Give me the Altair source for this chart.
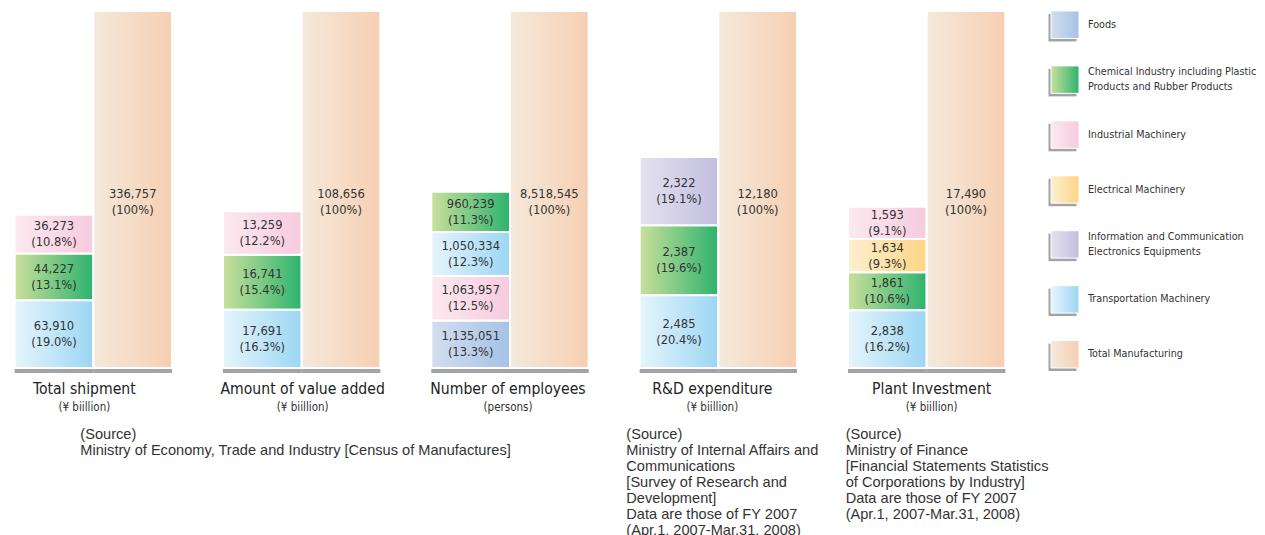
import altair as alt
import pandas as pd

COND = "DejaVu Sans Condensed, sans-serif"
REG = "Liberation Sans, Arial, sans-serif"

groups = ["Total shipment", "Amount of value added", "Number of employees",
          "R&D expenditure", "Plant Investment"]
units = ["(¥ biillion)", "(¥ biillion)", "(persons)", "(¥ biillion)", "(¥ biillion)"]
totals = ["336,757", "108,656", "8,518,545", "12,180", "17,490"]

cat_keys = ["foods", "chem", "indmach", "elec", "info", "trans", "total"]
cat_labels = ["Foods",
              "Chemical Industry including Plastic\nProducts and Rubber Products",
              "Industrial Machinery",
              "Electrical Machinery",
              "Information and Communication\nElectronics Equipments",
              "Transportation Machinery",
              "Total Manufacturing"]

# stacked segments, bottom to top within each group
seg_group = (["Total shipment"] * 3 + ["Amount of value added"] * 3 +
             ["Number of employees"] * 4 + ["R&D expenditure"] * 3 +
             ["Plant Investment"] * 4)
seg_cat = ["trans", "chem", "indmach",
           "trans", "chem", "indmach",
           "foods", "indmach", "trans", "chem",
           "trans", "chem", "info",
           "trans", "chem", "elec", "indmach"]
seg_value = ["63,910", "44,227", "36,273",
             "17,691", "16,741", "13,259",
             "1,135,051", "1,063,957", "1,050,334", "960,239",
             "2,485", "2,387", "2,322",
             "2,838", "1,861", "1,634", "1,593"]
seg_pct = [19.0, 13.1, 10.8,
           16.3, 15.4, 12.2,
           13.3, 12.5, 12.3, 11.3,
           20.4, 19.6, 19.1,
           16.2, 10.6, 9.3, 9.1]

source_groups = ["Total shipment", "R&D expenditure", "Plant Investment"]
source_texts = [
    "(Source)\nMinistry of Economy, Trade and Industry [Census of Manufactures]",
    "(Source)\nMinistry of Internal Affairs and\nCommunications\n[Survey of Research and\nDevelopment]\nData are those of FY 2007\n(Apr.1, 2007-Mar.31, 2008)",
    "(Source)\nMinistry of Finance\n[Financial Statements Statistics\nof Corporations by Industry]\nData are those of FY 2007\n(Apr.1, 2007-Mar.31, 2008)",
]

colors = {
    "foods": ("#d3deef", "#a5c2e5"),
    "chem": ("#c9e09c", "#2db36e"),
    "indmach": ("#fce9f0", "#f6cbde"),
    "elec": ("#fdefcf", "#fdd585"),
    "info": ("#e4e2f0", "#c2bedf"),
    "trans": ("#e6f5fc", "#9bd6f3"),
    "total": ("#f5e9dc", "#f6cfb2"),
}
SHADOW = "#a2a3a7"
TOTAL_LABEL_Y = 46.5
TITLE_DX = [-9, 1, -2, -6, 5]   # small horizontal nudges of the group captions
SRC_DX = [-13, -92, -81]


def grad(c):
    return {"gradient": "linear", "x1": 0, "y1": 0, "x2": 1, "y2": 0,
            "stops": [{"offset": 0, "color": c[0]}, {"offset": 1, "color": c[1]}]}


rows = []
cum = {g: 0.0 for g in groups}
for g, c, v, p in zip(seg_group, seg_cat, seg_value, seg_pct):
    y0 = cum[g]
    y1 = y0 + p
    cum[g] = y1
    rows.append({"group": g, "slot": "ind", "cat": c, "y0": y0, "y1": y1,
                 "ymid": (y0 + y1) / 2, "label": f"{v}\n({p:.1f}%)"})
for g, t in zip(groups, totals):
    rows.append({"group": g, "slot": "total", "cat": "total", "y0": 0.0, "y1": 100.0,
                 "ymid": TOTAL_LABEL_Y, "label": f"{t}\n(100%)"})
df = pd.DataFrame(rows)

XSCALE = alt.Scale(domain=groups, paddingInner=0.2447, paddingOuter=0.032)


def xenc():
    return alt.X("group:N", sort=groups, axis=None, scale=XSCALE)


xo = alt.XOffset("slot:N", sort=["ind", "total"],
                 scale=alt.Scale(domain=["ind", "total"], paddingInner=0, paddingOuter=0))
ysc = alt.Y("y1:Q", scale=alt.Scale(domain=[0, 100], nice=False, zero=True), axis=None)

base = alt.Chart(df).encode(x=xenc(), xOffset=xo)

layers = [base.mark_bar(color=SHADOW, xOffset=-4, yOffset=3, y2Offset=5)
          .encode(y=ysc, y2="y0:Q")]
for k in cat_keys:
    layers.append(
        base.transform_filter(alt.datum.cat == k)
        .mark_bar(fill=grad(colors[k]), stroke="white", strokeWidth=2)
        .encode(y=ysc, y2="y0:Q"))

layers.append(
    base.mark_text(lineBreak="\n", font=COND, fontSize=12.8, lineHeight=16,
                   color="#333333", baseline="middle", dy=-8)
    .encode(y=alt.Y("ymid:Q", axis=None), text="label:N"))

for g, u, dx in zip(groups, units, TITLE_DX):
    tdf = pd.DataFrame({"group": [g], "unit": [u]})
    tb = alt.Chart(tdf).encode(x=xenc(),
                               y=alt.YDatum(0, type="quantitative", axis=None))
    layers.append(tb.mark_text(font=COND, fontSize=15.6, color="#222222",
                               baseline="middle", dx=dx, dy=21).encode(text="group:N"))
    layers.append(tb.mark_text(font=COND, fontSize=11.5, color="#333333",
                               baseline="middle", dx=dx, dy=40).encode(text="unit:N"))

for g, t, dx in zip(source_groups, source_texts, SRC_DX):
    sdf = pd.DataFrame({"group": [g], "text": [t]})
    layers.append(
        alt.Chart(sdf).mark_text(font=REG, fontSize=14.6, lineHeight=16, color="#333333",
                                 align="left", baseline="top", dx=dx, dy=59,
                                 lineBreak="\n")
        .encode(x=xenc(),
                y=alt.YDatum(0, type="quantitative", axis=None),
                text="text:N"))

main = alt.layer(*layers).properties(width=1004, height=357)

ldf = pd.DataFrame({"key": cat_keys, "label": cat_labels})
ly = alt.Y("key:N", sort=cat_keys, axis=None,
           scale=alt.Scale(paddingInner=0.5, paddingOuter=0))
lb = alt.Chart(ldf).encode(y=ly)
leg_layers = [lb.mark_rect(color=SHADOW, xOffset=-2.5, x2Offset=-2.5, yOffset=3, y2Offset=3)
              .encode(x=alt.value(0), x2=alt.value(28))]
for k in cat_keys:
    leg_layers.append(
        lb.transform_filter(alt.datum.key == k)
        .mark_rect(fill=grad(colors[k]), stroke="white", strokeWidth=1)
        .encode(x=alt.value(0), x2=alt.value(28)))
one_line = "indexof(datum.label, '\\n') < 0"
two_line = "indexof(datum.label, '\\n') >= 0"
for flt, dy in ((one_line, 0), (two_line, -7.5)):
    leg_layers.append(
        lb.transform_filter(flt)
        .mark_text(font=COND, fontSize=10.7, lineHeight=15, color="#333333",
                   align="left", baseline="middle", lineBreak="\n", dy=dy)
        .encode(x=alt.value(37), text="label:N"))
legend = alt.layer(*leg_layers).properties(width=165, height=357)

chart = (alt.hconcat(main, legend, spacing=39, bounds="flush")
         .properties(padding={"top": 2, "left": 0, "right": 0, "bottom": 0})
         .configure(background="white")
         .configure_view(stroke=None))

chart.save("out.html", embed_options={"renderer": "svg", "actions": False})
